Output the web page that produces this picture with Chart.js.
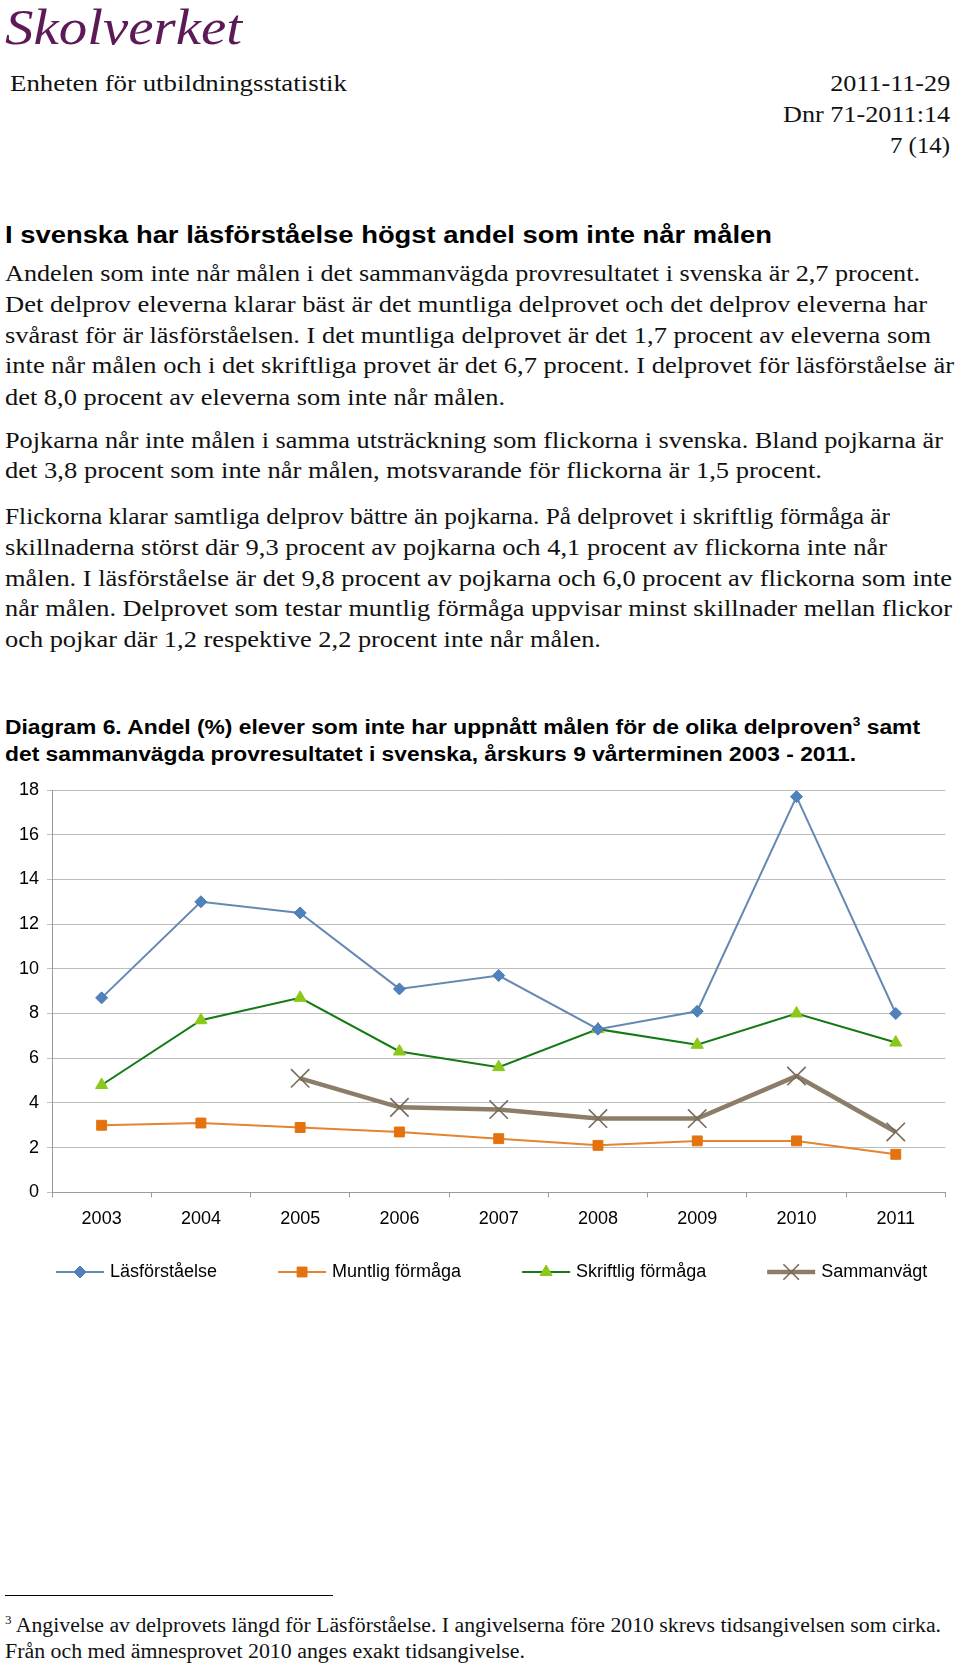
<!DOCTYPE html>
<html>
<head>
<meta charset="utf-8">
<script src="https://cdn.jsdelivr.net/npm/chart.js@4.4.1/dist/chart.umd.min.js"></script>
<style>
body{margin:0;background:#fff;width:960px;height:1665px;position:relative;overflow:hidden}
.ln{position:absolute;white-space:nowrap;transform-origin:left center}
.r{transform-origin:right center}
.serif{font-family:"Liberation Serif",serif;font-size:24px;line-height:30px;color:#111}
.bold{font-family:"Liberation Sans",Arial,sans-serif;font-weight:bold;color:#000}
.logo{font-family:"Liberation Serif",serif;font-style:italic;font-size:50px;line-height:52px;color:#5c1a57}
sup{font-size:60%;line-height:0}
.rule{position:absolute;left:5px;top:1595px;width:328px;height:1px;background:#000}
#wrap{position:absolute;left:0;top:770px}
</style>
</head>
<body>
<div class="ln logo" style="left:5px;top:1px" data-w="237">Skolverket</div>

<div class="ln serif" style="left:10px;top:68px" data-w="337">Enheten för utbildningsstatistik</div>
<div class="ln serif r" style="right:10px;top:68px" data-w="120">2011-11-29</div>
<div class="ln serif r" style="right:10px;top:99px" data-w="167">Dnr 71-2011:14</div>
<div class="ln serif r" style="right:10px;top:130px" data-w="60">7 (14)</div>

<div class="ln bold" style="left:5px;top:220px;font-size:23px;line-height:30px" data-w="767">I svenska har läsförståelse högst andel som inte når målen</div>

<div class="ln serif" style="left:5px;top:258px" data-w="915">Andelen som inte når målen i det sammanvägda provresultatet i svenska är 2,7 procent.</div>
<div class="ln serif" style="left:5px;top:289px" data-w="922">Det delprov eleverna klarar bäst är det muntliga delprovet och det delprov eleverna har</div>
<div class="ln serif" style="left:5px;top:320px" data-w="926">svårast för är läsförståelsen. I det muntliga delprovet är det 1,7 procent av eleverna som</div>
<div class="ln serif" style="left:5px;top:350px" data-w="949">inte når målen och i det skriftliga provet är det 6,7 procent. I delprovet för läsförståelse är</div>
<div class="ln serif" style="left:5px;top:382px" data-w="500">det 8,0 procent av eleverna som inte når målen.</div>

<div class="ln serif" style="left:5px;top:425px" data-w="938">Pojkarna når inte målen i samma utsträckning som flickorna i svenska. Bland pojkarna är</div>
<div class="ln serif" style="left:5px;top:455px" data-w="817">det 3,8 procent som inte når målen, motsvarande för flickorna är 1,5 procent.</div>

<div class="ln serif" style="left:5px;top:501px" data-w="885">Flickorna klarar samtliga delprov bättre än pojkarna. På delprovet i skriftlig förmåga är</div>
<div class="ln serif" style="left:5px;top:532px" data-w="882">skillnaderna störst där 9,3 procent av pojkarna och 4,1 procent av flickorna inte når</div>
<div class="ln serif" style="left:5px;top:563px" data-w="947">målen. I läsförståelse är det 9,8 procent av pojkarna och 6,0 procent av flickorna som inte</div>
<div class="ln serif" style="left:5px;top:593px" data-w="947">når målen. Delprovet som testar muntlig förmåga uppvisar minst skillnader mellan flickor</div>
<div class="ln serif" style="left:5px;top:624px" data-w="596">och pojkar där 1,2 respektive 2,2 procent inte når målen.</div>

<div class="ln bold" style="left:5px;top:714px;font-size:20px;line-height:26px" data-w="915">Diagram 6. Andel (%) elever som inte har uppnått målen för de olika delproven<sup>3</sup> samt</div>
<div class="ln bold" style="left:5px;top:741px;font-size:20px;line-height:26px" data-w="851">det sammanvägda provresultatet i svenska, årskurs 9 vårterminen 2003 - 2011.</div>

<div id="wrap"><canvas id="chart" width="960" height="530"></canvas></div>

<div class="rule"></div>
<div class="ln serif" style="left:5px;top:1612px;font-size:20px;line-height:26px" data-w="936"><sup>3</sup> Angivelse av delprovets längd för Läsförståelse. I angivelserna före 2010 skrevs tidsangivelsen som cirka.</div>
<div class="ln serif" style="left:5px;top:1638px;font-size:20px;line-height:26px" data-w="520">Från och med ämnesprovet 2010 anges exakt tidsangivelse.</div>

<script>
const years = ['2003', '2004', '2005', '2006', '2007', '2008', '2009', '2010', '2011']
const lasforstaelse = [8.7, 13.0, 12.5, 9.1, 9.7, 7.3, 8.1, 17.7, 8.0]
const muntlig = [3.0, 3.1, 2.9, 2.7, 2.4, 2.1, 2.3, 2.3, 1.7]
const skriftlig = [4.8, 7.7, 8.7, 6.3, 5.6, 7.3, 6.6, 8.0, 6.7]
const sammanvagt = [null, null, 5.1, 3.8, 3.7, 3.3, 3.3, 5.2, 2.7]
const yMin = 0
const yMax = 18
const yStep = 2

// squeeze text lines to the widths of the original page
document.querySelectorAll('[data-w]').forEach(el => {
    const w = el.getBoundingClientRect().width
    el.style.transform = 'scaleX(' + (+el.dataset.w / w).toFixed(4) + ')'
})

const FONT = '"Liberation Sans", Arial, sans-serif'

// legend: short line with the marker in the middle, then the label
const lineLegend = {
    id: 'lineLegend',
    afterDraw(chart){
        const ctx = chart.ctx
        const y = 502
        let x = 56
        ctx.save()
        ctx.font = '18px ' + FONT
        ctx.textBaseline = 'middle'
        chart.data.datasets.forEach(ds => {
            ctx.strokeStyle = ds.borderColor
            ctx.lineWidth = ds.borderWidth
            ctx.beginPath()
            ctx.moveTo(x, y)
            ctx.lineTo(x + 48, y)
            ctx.stroke()
            ctx.fillStyle = ds.pointBackgroundColor
            ctx.strokeStyle = ds.pointBorderColor
            ctx.lineWidth = ds.pointBorderWidth
            Chart.helpers.drawPoint(ctx, {
                pointStyle: ds.pointStyle,
                radius: ds.legendRadius,
                borderWidth: ds.pointBorderWidth,
                rotation: 0
            }, x + 24, y)
            ctx.fillStyle = '#000'
            ctx.fillText(ds.label, x + 54, y)
            x += 54 + ctx.measureText(ds.label).width + 61
        })
        ctx.restore()
    }
}

const config = {
    type: 'line',
    data: {
        labels: years,
        datasets: [{
            label: 'Läsförståelse',
            data: lasforstaelse,
            borderColor: '#6689b4',
            borderWidth: 2,
            pointStyle: 'rectRot',
            pointRadius: 6,
            legendRadius: 6,
            pointBackgroundColor: '#4f81bd',
            pointBorderColor: '#4a79b0',
            pointBorderWidth: 1
        }, {
            label: 'Muntlig förmåga',
            data: muntlig,
            borderColor: '#e5842e',
            borderWidth: 2,
            pointStyle: 'rect',
            pointRadius: 7,
            legendRadius: 7,
            pointBackgroundColor: '#e4730f',
            pointBorderColor: '#e4730f',
            pointBorderWidth: 1
        }, {
            label: 'Skriftlig förmåga',
            data: skriftlig,
            borderColor: '#137a14',
            borderWidth: 2,
            pointStyle: 'triangle',
            pointRadius: 7,
            legendRadius: 7,
            pointBackgroundColor: '#8cc81a',
            pointBorderColor: '#8cc81a',
            pointBorderWidth: 1
        }, {
            label: 'Sammanvägt',
            data: sammanvagt,
            borderColor: '#8c7d68',
            borderWidth: 4.5,
            pointStyle: 'crossRot',
            pointRadius: 13,
            legendRadius: 11,
            pointBackgroundColor: '#7a6b58',
            pointBorderColor: '#7a6b58',
            pointBorderWidth: 1.6
        }]
    },
    options: {
        responsive: false,
        animation: false,
        devicePixelRatio: 1,
        layout: { padding: { top: 20, right: 4, left: 0, bottom: 0 } },
        plugins: { legend: { display: false }, tooltip: { enabled: false } },
        elements: { line: { tension: 0 } },
        scales: {
            x: {
                offset: true,
                afterFit(scale){ scale.height = 107.7 },
                grid: { offset: true, drawOnChartArea: false, drawTicks: true, tickLength: 5, color: '#9a9a9a' },
                border: { color: '#9a9a9a' },
                ticks: { color: '#000', padding: 11, font: { family: FONT, size: 18 } }
            },
            y: {
                min: yMin,
                max: yMax,
                afterFit(scale){ scale.width = 52 },
                ticks: { stepSize: yStep, color: '#000', padding: 8, font: { family: FONT, size: 18 } },
                grid: { color: '#bdbdbd', tickLength: 5 },
                border: { color: '#9a9a9a' }
            }
        }
    },
    plugins: [lineLegend]
}

const ctx = document.getElementById('chart').getContext('2d')
const chart = new Chart(ctx, config)
</script>
</body>
</html>
